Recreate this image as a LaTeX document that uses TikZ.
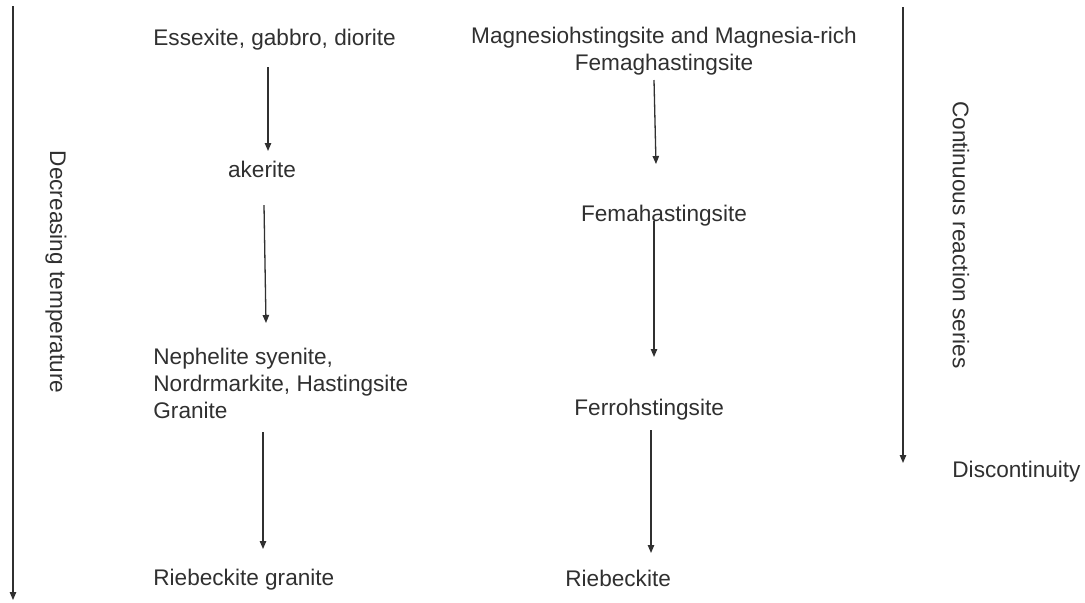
\documentclass[tikz,border=0pt]{standalone}
\usepackage{fontspec}
\setmainfont{Liberation Sans}
\usetikzlibrary{arrows.meta}
\definecolor{ink}{HTML}{303030}
\tikzset{
  lbl/.style={inner sep=0pt, text=ink, font=\fontsize{11.3}{13.5}\selectfont},
  arr/.style={draw=ink, line width=0.65pt, -{Triangle[length=4pt,width=3.2pt]}}
}
\begin{document}
\begin{tikzpicture}[x=0.5pt,y=-0.5pt]
\useasboundingbox[fill=white] (0,0) rectangle (1085,602);
% side arrows
\coordinate (lt) at (13,6);
\coordinate (lb) at (13,600);
\draw[arr] (lt) -- (lb);
\node[lbl, rotate=-90] (dec) at (56,272) {Decreasing temperature};
\coordinate (rt) at (903,7);
\coordinate (rb) at (903,463);
\draw[arr] (rt) -- (rb);
\node[lbl, rotate=-90] (cont) at (961,235) {Continuous reaction series};
\node[lbl, anchor=west] (disc) at (952,472) {Discontinuity};
% left column
\node[lbl, anchor=west] (ess) at (153,40) {Essexite, gabbro, diorite};
\node[lbl] (ake) at (262,169) {akerite};
\node[lbl, anchor=west, align=left] (nep) at (153,383) {Nephelite syenite,\\Nordrmarkite, Hastingsite\\Granite};
\node[lbl, anchor=west] (rgr) at (153,580) {Riebeckite granite};
\coordinate (a1s) at (268,67);
\coordinate (a1e) at (268,151);
\coordinate (a2s) at (264,205);
\coordinate (a2e) at (266,323);
\coordinate (a3s) at (263,432);
\coordinate (a3e) at (263,549);
\draw[arr] (a1s) -- (a1e);
\draw[arr] (a2s) -- (a2e);
\draw[arr] (a3s) -- (a3e);
% right column
\node[lbl, align=center] (mag) at (664,51) {Magnesiohstingsite and Magnesia-rich\\Femaghastingsite};
\node[lbl] (fem) at (664,216) {Femahastingsite};
\node[lbl, anchor=west] (fer) at (574,410) {Ferrohstingsite};
\node[lbl, anchor=west] (rie) at (565,578) {Riebeckite};
\coordinate (b1s) at (654,80);
\coordinate (b1e) at (656,164);
\coordinate (b2s) at (654,221);
\coordinate (b2e) at (654,357);
\coordinate (b3s) at (651,430);
\coordinate (b3e) at (651,553);
\draw[arr] (b1s) -- (b1e);
\draw[arr] (b2s) -- (b2e);
\draw[arr] (b3s) -- (b3e);
\end{tikzpicture}
\end{document}
